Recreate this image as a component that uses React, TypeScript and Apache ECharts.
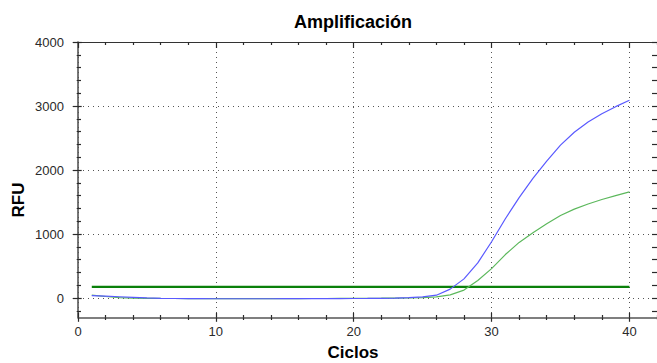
import React, { useEffect, useRef } from "react";
import * as echarts from "echarts";

// Data
const cycles = [1, 2, 3, 4, 5, 6, 7, 8, 9, 10, 11, 12, 13, 14, 15, 16, 17, 18, 19, 20, 21, 22, 23, 24, 25, 26, 27, 28, 29, 30, 31, 32, 33, 34, 35, 36, 37, 38, 39, 40];
const blueRFU = [38, 30, 21, 12, 4, -3, -6, -8, -9, -10, -10, -10, -10, -10, -9, -9, -8, -8, -7, -6, -5, -3, 0, 6, 18, 45, 140, 300, 550, 880, 1240, 1570, 1870, 2140, 2390, 2590, 2750, 2880, 2990, 3090];
const greenRFU = [46, 25, 8, 0, -3, -5, -6, -7, -7, -8, -8, -8, -8, -8, -7, -7, -6, -6, -5, -4, -3, -2, 0, 3, 8, 18, 50, 125, 275, 460, 680, 870, 1020, 1160, 1290, 1390, 1470, 1540, 1600, 1660];
const thresholdRFU = 175;
const thresholdSpan = [1, 40];

const xRange = [0, 42];
const yRange = [-300, 4000];
const xMajorTicks = [0, 10, 20, 30, 40];
const yMajorTicks = [0, 1000, 2000, 3000, 4000];
const xMinorStep = 2;
const yMinorStep = 200;

const FONT = '"Liberation Sans", Arial, sans-serif';

export default function App() {
  const ref = useRef<HTMLDivElement>(null);

  useEffect(() => {
    if (!ref.current) return;
    const chart = echarts.init(ref.current, null, { renderer: "svg" });

    const xMinor: number[] = [];
    for (let v = xRange[0] + xMinorStep; v <= xRange[1]; v += xMinorStep) if (v % 10 !== 0) xMinor.push(v);
    const yMinor: number[] = [];
    for (let v = -200; v <= yRange[1]; v += yMinorStep) if (v % 1000 !== 0) yMinor.push(v);
    const yAll: number[] = [];
    for (let v = -200; v <= yRange[1]; v += yMinorStep) yAll.push(v);

    const hidden = {
      axisLine: { show: false, onZero: false },
      axisLabel: { show: false },
      splitLine: { show: false },
      minorTick: { show: false },
    };
    const tickStyle = { color: "#2a2a2a", width: 1.2 };

    const xa = (position: string, values: number[], inside: boolean, length: number, extra: any = {}) => ({
      type: "value",
      min: xRange[0],
      max: xRange[1],
      position,
      ...hidden,
      axisTick: { show: true, inside, length, customValues: values, lineStyle: tickStyle },
      ...extra,
    });
    const ya = (position: string, values: number[], inside: boolean, length: number, extra: any = {}) => ({
      type: "value",
      min: yRange[0],
      max: yRange[1],
      position,
      ...hidden,
      axisTick: { show: true, inside, length, customValues: values, lineStyle: tickStyle },
      ...extra,
    });

    const gridLine = { show: true, lineStyle: { color: "#555", width: 1, type: [1, 4] } };
    const labelStyle = {
      show: true,
      fontSize: 13,
      fontFamily: FONT,
      color: "#2a2a2a",
      formatter: (v: number) => String(v),
    };

    chart.setOption({
      animation: false,
      backgroundColor: "#ffffff",
      grid: { left: 78, top: 42, width: 581.7, height: 275.3, containLabel: false },
      xAxis: [
        xa("bottom", xMajorTicks, false, 4.5, {
          axisLine: { show: true, onZero: false, lineStyle: { color: "#555", width: 1.6 } },
          axisLabel: { ...labelStyle, margin: 8, customValues: xMajorTicks },
          splitLine: gridLine,
        }),
        xa("bottom", xMajorTicks, true, 4.5),
        xa("bottom", xMinor, false, 2.7),
        xa("bottom", xMinor, true, 2.3),
        xa("top", xMajorTicks, true, 6, {
          axisLine: { show: true, onZero: false, lineStyle: { color: "#333", width: 1 } },
        }),
        xa("top", xMinor, true, 3),
      ],
      yAxis: [
        ya("left", yMajorTicks, false, 5.3, {
          axisLine: { show: true, onZero: false, lineStyle: { color: "#555", width: 1.6 } },
          axisLabel: { ...labelStyle, margin: 14, customValues: yMajorTicks },
          splitLine: gridLine,
        }),
        ya("left", yMajorTicks, true, 3.7),
        ya("left", yMinor, true, 3),
        ya("left", yMinor, false, 1.3),
        ya("right", yAll, true, 5),
      ],
      graphic: [
        {
          type: "text",
          x: 353,
          y: 22,
          style: { text: "Amplificación", fontSize: 18, fontWeight: "bold", fontFamily: FONT, fill: "#000", align: "center", verticalAlign: "middle" },
        },
        {
          type: "text",
          x: 18,
          y: 200,
          rotation: Math.PI / 2,
          style: { text: "RFU", fontSize: 17, fontWeight: "bold", fontFamily: FONT, fill: "#000", align: "center", verticalAlign: "middle" },
        },
        {
          type: "text",
          x: 353,
          y: 352,
          style: { text: "Ciclos", fontSize: 17, fontWeight: "bold", fontFamily: FONT, fill: "#000", align: "center", verticalAlign: "middle" },
        },
      ],
      series: [
        {
          name: "Umbral",
          type: "line",
          xAxisIndex: 0,
          yAxisIndex: 0,
          data: thresholdSpan.map((c) => [c, thresholdRFU]),
          showSymbol: false,
          symbol: "none",
          lineStyle: { color: "#0a800a", width: 2.2 },
          z: 3,
        },
        {
          name: "Verde",
          type: "line",
          xAxisIndex: 0,
          yAxisIndex: 0,
          data: cycles.map((c, i) => [c, greenRFU[i]]),
          showSymbol: false,
          symbol: "none",
          lineStyle: { color: "#5cb85c", width: 1.2 },
          z: 4,
        },
        {
          name: "Azul",
          type: "line",
          xAxisIndex: 0,
          yAxisIndex: 0,
          data: cycles.map((c, i) => [c, blueRFU[i]]),
          showSymbol: false,
          symbol: "none",
          lineStyle: { color: "#5a5aff", width: 1.2 },
          z: 5,
        },
      ],
    });

    return () => chart.dispose();
  }, []);

  return (
    <div
      ref={ref}
      style={{ position: "fixed", left: 0, top: 0, width: 657, height: 363, background: "#fff" }}
    />
  );
}
